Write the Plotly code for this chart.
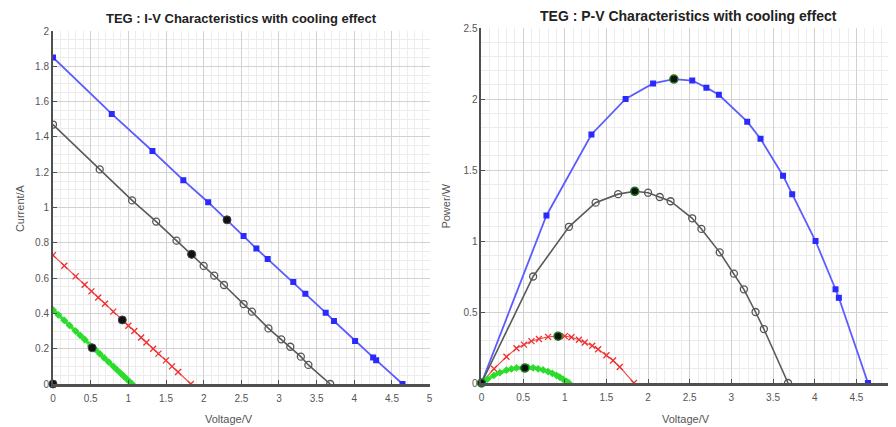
import plotly.graph_objects as go

# ---------------- data ----------------
blue_v = [0, 0.78, 1.32, 1.73, 2.06, 2.31, 2.53, 2.70, 2.85, 3.19, 3.35, 3.62, 3.73, 4.01, 4.25, 4.29, 4.64]
blue_i = [1.85, 1.53, 1.32, 1.155, 1.03, 0.93, 0.838, 0.767, 0.708, 0.578, 0.512, 0.404, 0.357, 0.244, 0.15, 0.135, 0]
blue_p = [0, 1.18, 1.75, 2.00, 2.11, 2.14, 2.13, 2.08, 2.03, 1.84, 1.72, 1.46, 1.33, 1.00, 0.66, 0.60, 0]

gray_v = [0, 0.62, 1.05, 1.37, 1.64, 1.84, 2.00, 2.14, 2.27, 2.53, 2.64, 2.86, 3.03, 3.15, 3.29, 3.39, 3.68]
gray_i = [1.47, 1.216, 1.04, 0.92, 0.812, 0.735, 0.669, 0.614, 0.561, 0.453, 0.41, 0.315, 0.253, 0.211, 0.155, 0.108, 0]
gray_p = [0, 0.75, 1.10, 1.27, 1.33, 1.35, 1.34, 1.31, 1.28, 1.16, 1.085, 0.92, 0.77, 0.66, 0.50, 0.38, 0]

red_v = [0, 0.15, 0.30, 0.42, 0.51, 0.60, 0.69, 0.80, 0.92, 1.00, 1.08, 1.17, 1.24, 1.33, 1.40, 1.50, 1.58, 1.66, 1.83]
red_i = [0.73, 0.67, 0.61, 0.562, 0.525, 0.49, 0.455, 0.41, 0.362, 0.33, 0.30, 0.263, 0.235, 0.2, 0.172, 0.134, 0.1, 0.068, 0]
red_p = [0, 0.10, 0.185, 0.245, 0.27, 0.295, 0.31, 0.325, 0.33, 0.33, 0.322, 0.305, 0.285, 0.262, 0.238, 0.195, 0.158, 0.113, 0]

green_v = [0, 0.07, 0.15, 0.22, 0.30, 0.36, 0.42, 0.50, 0.56, 0.62, 0.68, 0.74, 0.80, 0.85, 0.90, 0.94, 0.98, 1.02, 1.05]
green_i = [0.42, 0.392, 0.36, 0.332, 0.30, 0.276, 0.252, 0.215, 0.196, 0.172, 0.148, 0.124, 0.10, 0.08, 0.06, 0.044, 0.028, 0.012, 0]
green_p = [0, 0.027, 0.054, 0.073, 0.09, 0.099, 0.106, 0.108, 0.11, 0.107, 0.10, 0.092, 0.08, 0.068, 0.054, 0.041, 0.027, 0.012, 0]

mpp_v = [0, 2.31, 1.84, 0.92, 0.52]
mpp_i = [0, 0.93, 0.735, 0.363, 0.205]
mpp_p = [0, 2.14, 1.35, 0.33, 0.105]

x_ticks = [0, 0.5, 1, 1.5, 2, 2.5, 3, 3.5, 4, 4.5, 5]
x_ticklabels = ["0", "0.5", "1", "1.5", "2", "2.5", "3", "3.5", "4", "4.5", "5"]
iv_yticks = [0, 0.2, 0.4, 0.6, 0.8, 1, 1.2, 1.4, 1.6, 1.8, 2]
iv_yticklabels = ["0", "0.2", "0.4", "0.6", "0.8", "1", "1.2", "1.4", "1.6", "1.8", "2"]
pv_yticks = [0, 0.5, 1, 1.5, 2, 2.5]
pv_yticklabels = ["0", "0.5", "1", "1.5", "2", "2.5"]

# ---------------- figure ----------------
# the page body has an 8px margin, so the figure starts at page (8, 8)
OFF = 8
W, H = 896 - OFF, 427 - OFF
ML, MR, MT, MB = 53 - OFF, 0, 28 - OFF, H - (384 - OFF)
PW = W - ML - MR
PH = H - MT - MB


def px_x(px):
    return (px - OFF - ML) / PW


def px_y(py):
    return (H - MB - (py - OFF)) / PH


fig = go.Figure()

series = [
    (blue_v, blue_i, blue_p, "#5c5cff", dict(symbol="square", size=6, color="#2a2aff"), 1.8),
    (gray_v, gray_i, gray_p, "#5a5a5a", dict(symbol="circle-open", size=7, color="#555555", line=dict(width=1.3)), 1.6),
    (red_v, red_i, red_p, "#f05050", dict(symbol="x-thin", size=6, color="#f03030", line=dict(width=1.3, color="#f03030")), 1.2),
    (green_v, green_i, green_p, "#3de03d", dict(symbol="diamond", size=6, color="#2bdc2b"), 3.5),
]

for v, i, p, lc, mk, lw in series:
    fig.add_trace(go.Scatter(x=v, y=i, mode="lines+markers", line=dict(color=lc, width=lw),
                             marker=mk, xaxis="x", yaxis="y", showlegend=False))
    fig.add_trace(go.Scatter(x=v, y=p, mode="lines+markers", line=dict(color=lc, width=lw),
                             marker=mk, xaxis="x2", yaxis="y2", showlegend=False))

mpp_marker = dict(symbol="circle", size=8, color="#111111", line=dict(color="#444444", width=1))
fig.add_trace(go.Scatter(x=mpp_v, y=mpp_i, mode="markers", marker=mpp_marker,
                         xaxis="x", yaxis="y", showlegend=False, cliponaxis=False))
mpp_marker2 = dict(symbol="circle", size=8, color="#111111", line=dict(color="#1f7a1f", width=1.5))
fig.add_trace(go.Scatter(x=mpp_v, y=mpp_p, mode="markers", marker=mpp_marker2,
                         xaxis="x2", yaxis="y2", showlegend=False, cliponaxis=False))

tickfont = dict(family="Liberation Sans, Arial, sans-serif", size=10, color="#555555")
grid_major = "#d2d2d2"
grid_minor = "#ececec"

common_x = dict(
    tickmode="array", tickvals=x_ticks, ticktext=x_ticklabels,
    showgrid=True, gridcolor=grid_major, gridwidth=1,
    minor=dict(dtick=0.1, showgrid=True, gridcolor=grid_minor, gridwidth=1),
    showline=True, linecolor="#505050", linewidth=3,
    ticks="inside", ticklen=4, tickcolor="#505050",
    tickfont=tickfont, zeroline=False, fixedrange=True,
    ticklabelstandoff=3,
)
common_y = dict(
    showgrid=True, gridcolor=grid_major, gridwidth=1,
    showline=True, linecolor="#505050", linewidth=2,
    ticks="inside", ticklen=4, tickcolor="#505050",
    tickfont=tickfont, zeroline=False, fixedrange=True,
)

fig.update_layout(
    width=W, height=H,
    margin=dict(l=ML, r=MR, t=MT, b=MB, pad=0),
    paper_bgcolor="white", plot_bgcolor="white",
    xaxis=dict(common_x, domain=[0, px_x(431)], range=[0, 5], anchor="y"),
    yaxis=dict(common_y, domain=[0, px_y(31)], range=[0, 2], anchor="x",
               tickmode="array", tickvals=iv_yticks, ticktext=iv_yticklabels,
               minor=dict(dtick=0.05, showgrid=True, gridcolor=grid_minor, gridwidth=1)),
    xaxis2=dict(common_x, domain=[px_x(483), 1], range=[0, 4.94], anchor="y2"),
    yaxis2=dict(common_y, domain=[px_y(383), 1], range=[0, 2.5], anchor="x2",
                tickmode="array", tickvals=pv_yticks, ticktext=pv_yticklabels,
                minor=dict(dtick=0.1, showgrid=True, gridcolor=grid_minor, gridwidth=1)),
    showlegend=False,
)

title_font_l = dict(family="Liberation Sans, Arial, sans-serif", size=13, color="#222222")
title_font_r = dict(family="Liberation Sans, Arial, sans-serif", size=14, color="#222222")
label_font = dict(family="Liberation Sans, Arial, sans-serif", size=11, color="#555555")

annotations = [
    dict(text="<b>TEG : I-V Characteristics with cooling effect</b>", x=px_x(242), y=px_y(18),
         font=title_font_l),
    dict(text="<b>TEG : P-V Characteristics with cooling effect</b>", x=px_x(691), y=px_y(16),
         font=title_font_r),
    dict(text="Voltage/V", x=px_x(230), y=px_y(419), font=label_font),
    dict(text="Voltage/V", x=px_x(688), y=px_y(419), font=label_font),
    dict(text="Current/A", x=px_x(20), y=px_y(208), font=label_font, textangle=-90),
    dict(text="Power/W", x=px_x(447), y=px_y(206), font=label_font, textangle=-90),
]
for a in annotations:
    a.update(xref="paper", yref="paper", showarrow=False, xanchor="center", yanchor="middle")
fig.update_layout(annotations=annotations)

fig.write_html("out.html")
